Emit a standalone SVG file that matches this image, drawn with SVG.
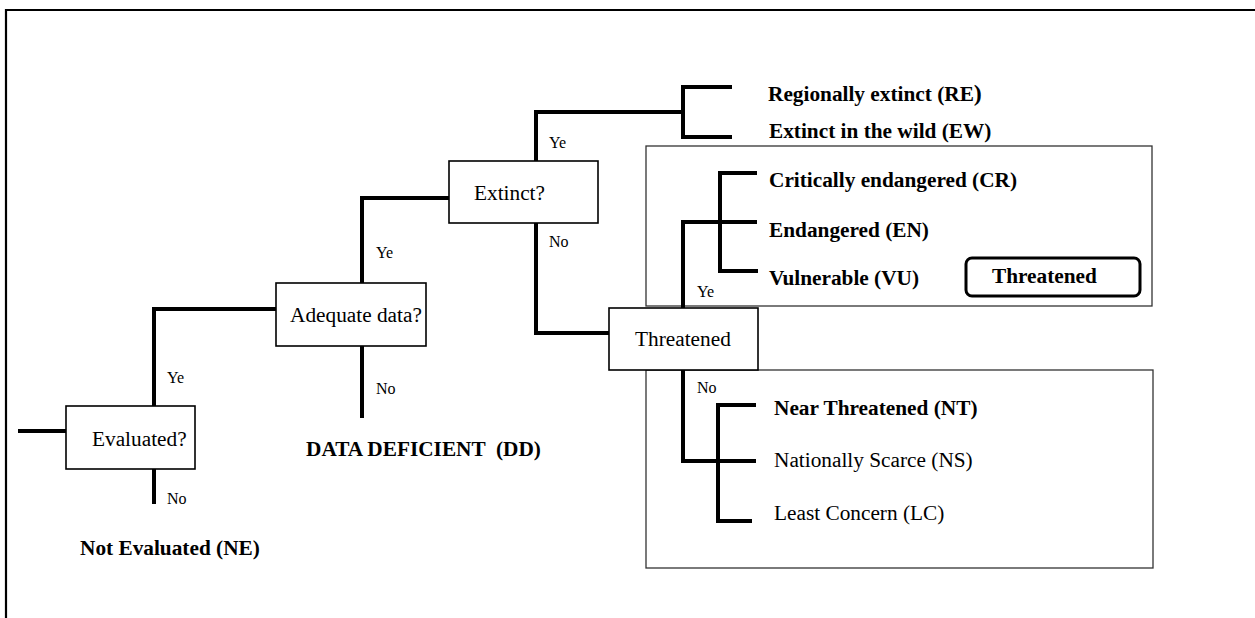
<svg xmlns="http://www.w3.org/2000/svg" width="1255" height="618" viewBox="0 0 1255 618">
<style>
  .frame{fill:none;stroke:#000;stroke-width:2.2}
  .box{fill:#fff;stroke:#000;stroke-width:1.6}
  .grp{fill:none;stroke:#333;stroke-width:1.3}
  .rbox{fill:#fff;stroke:#000;stroke-width:3}
  .con path{fill:none;stroke:#000;stroke-width:4;stroke-linecap:butt;stroke-linejoin:miter}
  text{font-family:"Liberation Serif","Times New Roman",serif;fill:#000}
  .t{font-size:21.3px}
  .b{font-size:21.3px;font-weight:bold}
  .s{font-size:16px}
</style>
<rect width="1255" height="618" fill="#fff"/>
<path class="frame" d="M6,620 V10 H1260"/>

<g id="group-threatened">
  <rect class="grp" x="646" y="146" width="506" height="160"/>
</g>
<g id="group-not-threatened">
  <rect class="grp" x="646" y="370" width="507" height="198"/>
</g>

<g id="connectors" class="con">
  <path d="M18,431 H66"/>
  <path d="M154,406 V309 H276"/>
  <path d="M154,469 V504"/>
  <path d="M362,283 V198 H449"/>
  <path d="M362,346 V418"/>
  <path d="M536,161 V112 H683"/>
  <path d="M732,87 H683 V137 H732"/>
  <path d="M536,223 V333 H609"/>
  <path d="M683,308 V222 H757"/>
  <path d="M757,173 H720 V271 H758"/>
  <path d="M683,370 V461 H718"/>
  <path d="M756,405 H718 V521 H752"/>
  <path d="M718,461 H756"/>
</g>

<g id="labels">
  <text class="s" x="167" y="383">Ye</text>
  <text class="s" x="167" y="504">No</text>
  <text class="s" x="376" y="258">Ye</text>
  <text class="s" x="376" y="394">No</text>
  <text class="s" x="549" y="148">Ye</text>
  <text class="s" x="549" y="247">No</text>
  <text class="s" x="697" y="297">Ye</text>
  <text class="s" x="697" y="393">No</text>
</g>

<g id="node-evaluated">
  <rect class="box" x="66" y="406" width="129" height="63"/>
  <text class="t" x="92" y="446">Evaluated?</text>
</g>
<g id="node-adequate">
  <rect class="box" x="276" y="283" width="150" height="63"/>
  <text class="t" x="290" y="322">Adequate data?</text>
</g>
<g id="node-extinct">
  <rect class="box" x="449" y="161" width="149" height="62"/>
  <text class="t" x="474" y="200">Extinct?</text>
</g>
<g id="node-threatened">
  <rect class="box" x="609" y="308" width="149" height="62"/>
  <text class="t" x="635" y="346">Threatened</text>
</g>

<g id="node-ne"><text class="b" x="80" y="555">Not Evaluated (NE)</text></g>
<g id="node-dd"><text class="b" x="306" y="456" xml:space="preserve">DATA DEFICIENT  (DD)</text></g>
<g id="node-re"><text class="b" x="768" y="101">Regionally extinct (RE<tspan font-size="24">)</tspan></text></g>
<g id="node-ew"><text class="b" x="769" y="138">Extinct in the wild (EW)</text></g>
<g id="node-cr"><text class="b" x="769" y="187">Critically endangered (CR)</text></g>
<g id="node-en"><text class="b" x="769" y="237">Endangered (EN)</text></g>
<g id="node-vu"><text class="b" x="769" y="285">Vulnerable (VU)</text></g>
<g id="node-threatened-label">
  <rect class="rbox" x="966" y="258" width="174" height="38" rx="6" ry="6"/>
  <text class="b" x="992" y="283">Threatened</text>
</g>
<g id="node-nt"><text class="b" x="774" y="415">Near Threatened (NT)</text></g>
<g id="node-ns"><text class="t" x="774" y="467">Nationally Scarce (NS)</text></g>
<g id="node-lc"><text class="t" x="774" y="520">Least Concern (LC)</text></g>
</svg>
